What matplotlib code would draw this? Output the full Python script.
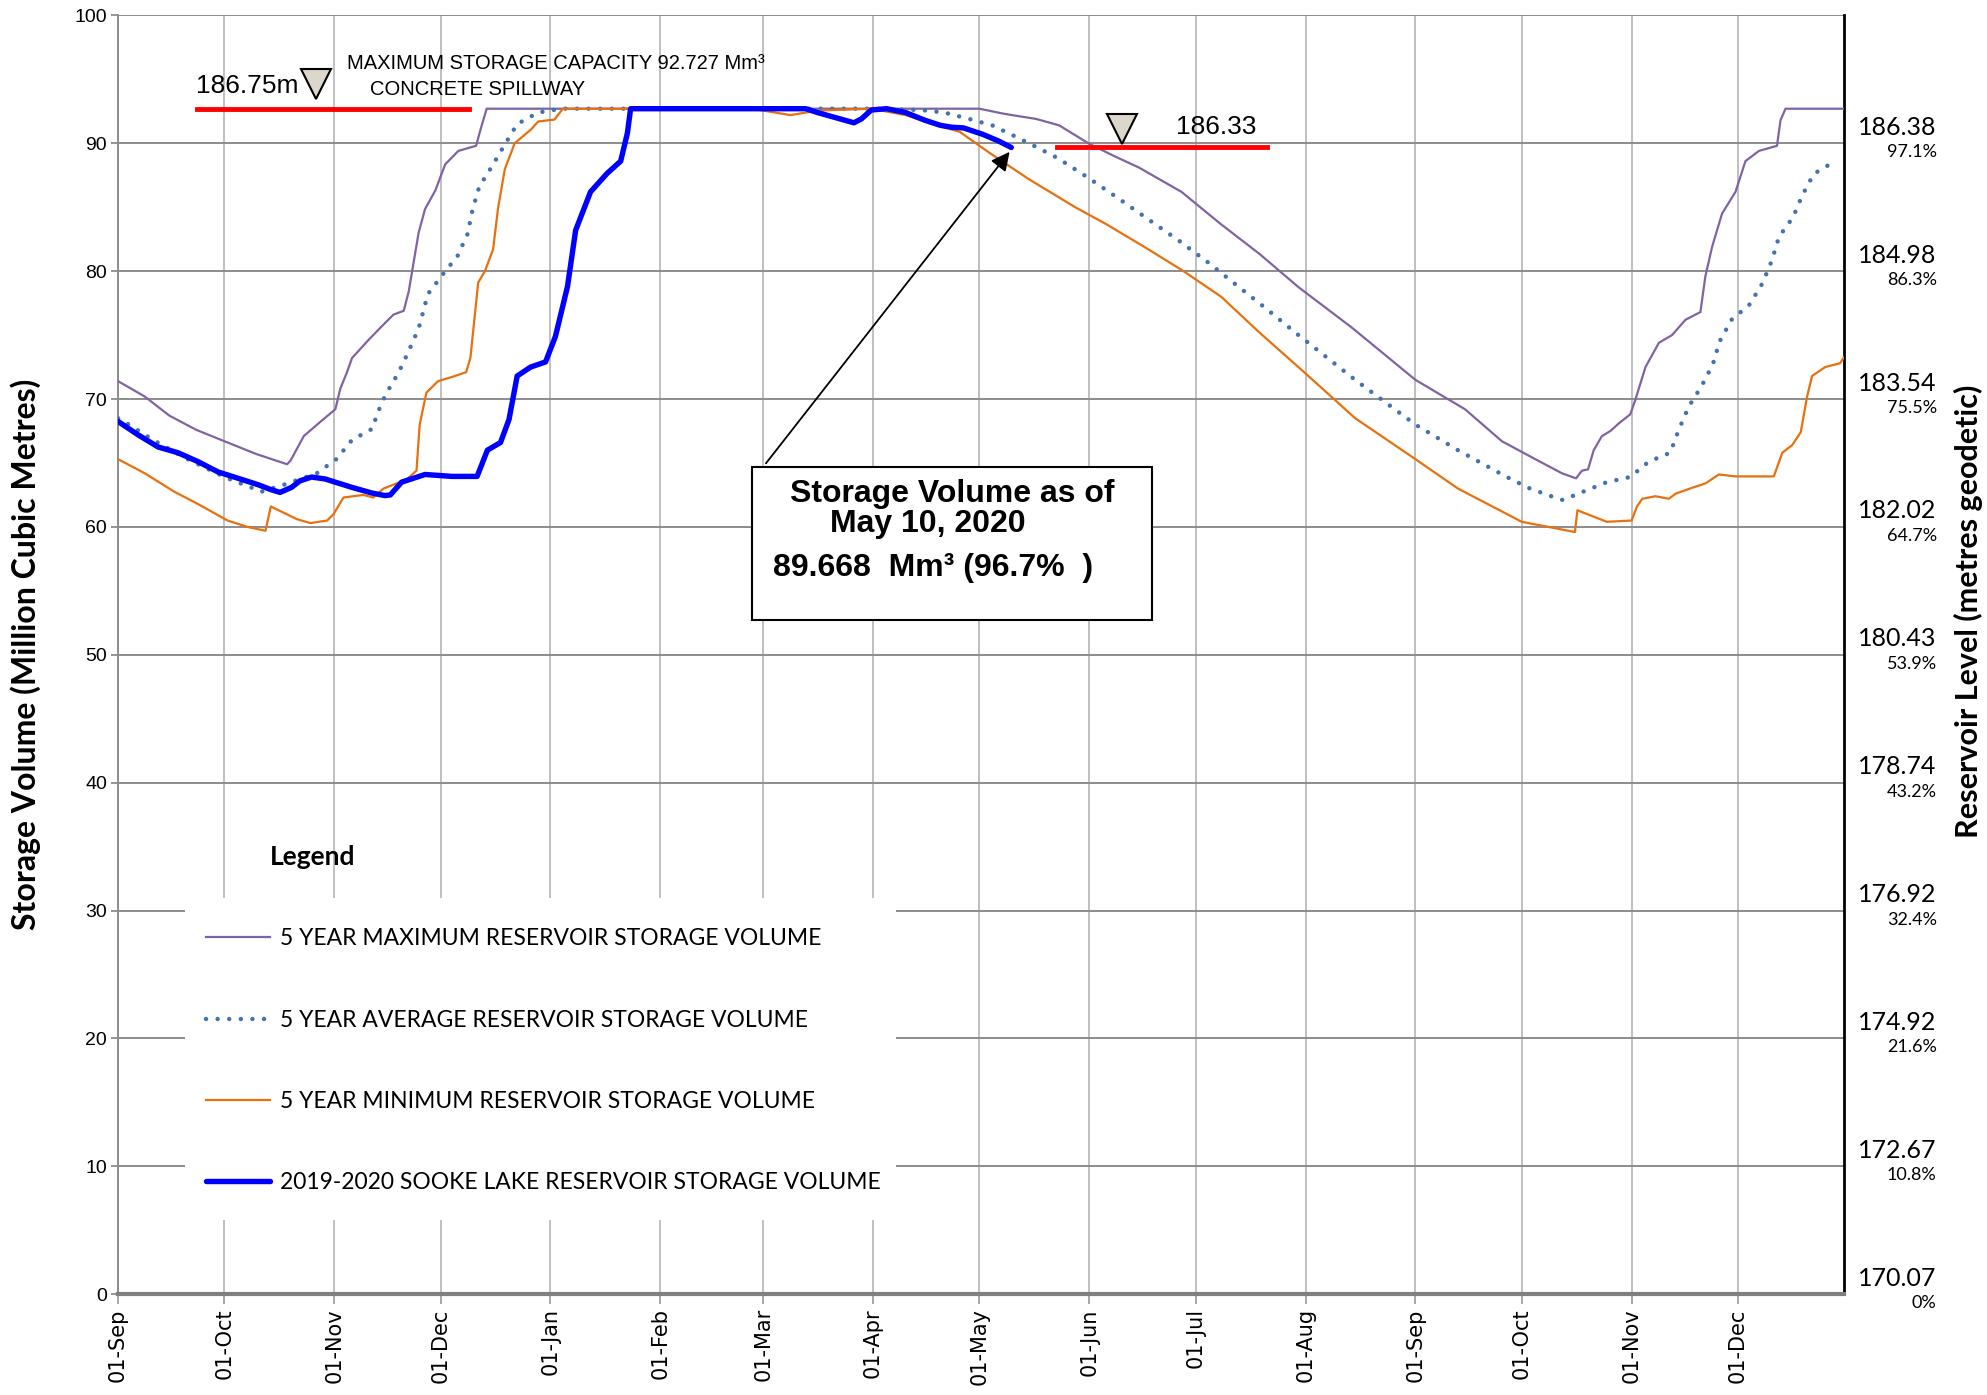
import pandas as pd
import matplotlib
matplotlib.use('Agg')
import matplotlib.pyplot as plt
import matplotlib.dates as mdates
import matplotlib.transforms as mtransforms
from matplotlib.patches import Rectangle
from matplotlib.lines import Line2D

plt.rcParams['font.family'] = ['Liberation Sans', 'DejaVu Sans']

START = pd.Timestamp('2019-09-01')

# x values are days since 01-Sep-2019, y values are storage in Mm3
max_days = [0, 7.5, 14.5, 22, 30, 39, 47.7, 48.7, 52.4, 57, 61.3, 62.7, 64.6, 66, 70.6,
            74.1, 77.7, 80.6, 82, 84.8, 86.6, 89.5, 92.3, 96, 101, 102.5, 104, 243, 250,
            259, 265.5, 274, 281, 288, 300, 311, 322, 333, 348, 366, 380, 390.4, 399.8,
            407.3, 411.3, 413, 414.7, 416.3, 418.6, 421, 423.4, 426.6, 428, 430.9, 434.7,
            438.4, 442.2, 446.4, 447.8, 449.7, 452.5, 456.3, 459.1, 462.9, 468, 469,
            470.4, 487]
max_vol = [71.4, 70.2, 68.7, 67.6, 66.7, 65.7, 64.9, 65.2, 67.1, 68.2, 69.2, 70.8, 72.1,
           73.2, 74.6, 75.6, 76.6, 76.9, 78.4, 83.0, 84.85, 86.3, 88.35, 89.4, 89.8, 91.3,
           92.7, 92.7, 92.3, 91.9, 91.4, 89.95, 89.0, 88.1, 86.2, 83.7, 81.35, 78.75, 75.6,
           71.5, 69.2, 66.7, 65.3, 64.2, 63.8, 64.4, 64.5, 66.0, 67.1, 67.5, 68.1, 68.8,
           69.9, 72.5, 74.4, 75.0, 76.2, 76.8, 79.6, 81.9, 84.5, 86.2, 88.6, 89.4, 89.8,
           91.8, 92.7, 92.7]

avg_days = [0, 3.7, 9.3, 18.2, 24.8, 30.9, 37.4, 40.4, 46.8, 56.1, 61.6, 66, 71.9, 72.8,
            74.1, 75.6, 79, 80.6, 84.8, 87.4, 91.5, 95.8, 98.6, 100, 101.9, 105.5, 108.9,
            112.6, 118.5, 125, 213, 226.6, 233.1, 240.1, 246.6, 252.6, 259.1, 265, 273.7,
            282.4, 290.9, 299.2, 307.9, 316, 324.2, 332.1, 349, 366, 378, 391.8, 397.9,
            404.3, 407.6, 413.7, 420, 426.6, 431.8, 437.9, 440.3, 443.1, 446.7, 449.9,
            451.8, 455.2, 460.3, 464, 466.5, 468.6, 472.5, 475.1, 476.8, 478.4, 481.3,
            484.6]
avg_vol = [68.5, 67.9, 66.9, 65.5, 64.6, 63.8, 63.1, 62.75, 63.3, 64.2, 65.3, 66.8, 67.7,
           68.6, 69.5, 70.4, 72.0, 72.9, 75.5, 78.2, 79.7, 81.2, 82.9, 84.8, 86.6, 88.2,
           89.8, 91.5, 92.4, 92.7, 92.7, 92.6, 92.4, 91.9, 91.4, 90.6, 89.7, 88.85, 87.3,
           85.65, 84.0, 82.4, 80.6, 78.8, 77.0, 75.2, 71.5, 68.0, 66.0, 63.9, 63.05, 62.4,
           62.1, 62.8, 63.5, 63.9, 65.1, 65.8, 67.6, 69.4, 71.0, 72.7, 74.5, 76.2, 77.4,
           79.1, 80.8, 82.7, 84.2, 85.9, 86.8, 87.6, 88.1, 88.6]

min_days = [0, 7.5, 15.9, 22.5, 30.9, 36.5, 41.6, 43.1, 50.5, 54.3, 59, 60.8, 63.6, 69.2,
            72, 74.9, 81.4, 84.2, 85.1, 87, 90.3, 94.5, 98.2, 99.4, 101.6, 103.5, 105.8,
            107.2, 109.1, 111.9, 116.6, 118.5, 123.1, 125.5, 170, 181, 189.7, 197.3,
            212.5, 222.2, 229.8, 237.4, 246.1, 256.9, 270, 278.6, 289.5, 300.3, 311.2,
            322, 335, 349, 366, 378, 396, 411, 411.7, 420, 427, 428.5, 430, 433.7, 437.5,
            439.4, 444.5, 447.8, 451.6, 456.3, 467.1, 469.5, 472.3, 474.7, 476.5, 477.9,
            481.6, 485.8, 487]
min_vol = [65.3, 64.2, 62.75, 61.8, 60.5, 60.0, 59.7, 61.6, 60.6, 60.3, 60.5, 61.0, 62.3,
           62.5, 62.3, 63.0, 63.7, 64.4, 68.0, 70.5, 71.4, 71.75, 72.1, 73.2, 79.1, 80.0,
           81.7, 84.9, 87.96, 90.0, 91.1, 91.7, 91.85, 92.7, 92.7, 92.6, 92.2, 92.55, 92.7,
           92.2, 91.5, 90.9, 89.2, 87.2, 85.0, 83.7, 81.9, 80.05, 78.0, 75.2, 72.0, 68.5,
           65.3, 63.0, 60.4, 59.6, 61.3, 60.4, 60.5, 61.6, 62.2, 62.4, 62.2, 62.6, 63.1,
           63.4, 64.1, 63.95, 63.95, 65.8, 66.4, 67.4, 70.2, 71.8, 72.5, 72.8, 73.3]

cur_days = [0, 5.65, 11.3, 16.9, 22.6, 28.2, 33.9, 39.5, 43.3, 45.7, 49, 51.3, 54.6, 58.4,
            65.9, 71.6, 75.3, 76.8, 80, 86.6, 94.2, 101.3, 104.2, 107.9, 110.3, 112.6,
            116.4, 120.6, 123.4, 126.8, 129.1, 133.3, 138, 141.8, 143.7, 144.6, 194,
            197.3, 202.7, 207.6, 209.7, 212.5, 216.8, 222.2, 227.6, 232, 235.2, 238.5,
            243.9, 248.2, 252]
cur_vol = [68.25, 67.2, 66.25, 65.8, 65.1, 64.3, 63.8, 63.3, 62.9, 62.7, 63.1, 63.6, 63.9,
           63.75, 63.1, 62.65, 62.45, 62.5, 63.5, 64.1, 63.95, 63.95, 66.0, 66.6, 68.4,
           71.8, 72.5, 72.9, 74.9, 78.8, 83.2, 86.2, 87.65, 88.6, 90.8, 92.7, 92.7, 92.4,
           91.98, 91.6, 91.9, 92.6, 92.7, 92.4, 91.8, 91.4, 91.25, 91.2, 90.7, 90.2, 89.668]

# secondary axis labels: reservoir level and percent full
level_ticks = [90, 80, 70, 60, 50, 40, 30, 20, 10, 0]
level_labels = ['186.38', '184.98', '183.54', '182.02', '180.43',
                '178.74', '176.92', '174.92', '172.67', '170.07']
pct_labels = ['97.1%', '86.3%', '75.5%', '64.7%', '53.9%',
              '43.2%', '32.4%', '21.6%', '10.8%', '0%']

series_labels = ['5 YEAR MAXIMUM RESERVOIR STORAGE VOLUME',
                 '5 YEAR AVERAGE RESERVOIR STORAGE VOLUME',
                 '5 YEAR MINIMUM RESERVOIR STORAGE VOLUME',
                 '2019-2020 SOOKE LAKE RESERVOIR STORAGE VOLUME']


def to_dates(days):
    return START + pd.to_timedelta(days, unit='D')


def d(day):
    return mdates.date2num(to_dates([day])[0])


PURPLE = '#8064a2'
BLUE_DOT = '#4472b0'
ORANGE = '#e8700e'
BLUE = '#0000ff'
RED = '#ff0000'
DOTS = (0, (0.01, 2.6))

fig, ax = plt.subplots(figsize=(19.87, 13.95), dpi=100)
fig.subplots_adjust(left=0.0594, right=0.9282, bottom=0.0722, top=0.989)

ax.plot(to_dates(max_days), max_vol, color=PURPLE, lw=1.6, zorder=3)
ax.plot(to_dates(avg_days), avg_vol, color=BLUE_DOT, lw=3.2,
        linestyle=DOTS, dash_capstyle='round', zorder=3)
ax.plot(to_dates(min_days), min_vol, color=ORANGE, lw=1.6, zorder=3)
ax.plot(to_dates(cur_days), cur_vol, color=BLUE, lw=3.9, zorder=4,
        solid_capstyle='round', solid_joinstyle='round')

ax.set_xlim(pd.Timestamp('2019-09-01'), pd.Timestamp('2020-12-31'))
ax.set_ylim(0, 100)
ax.set_yticks(range(0, 101, 10))
ax.xaxis.set_major_locator(mdates.MonthLocator())
ax.xaxis.set_major_formatter(mdates.DateFormatter('%d-%b'))
for lab in ax.get_xticklabels():
    lab.set_rotation(90)
    lab.set_fontfamily('DejaVu Sans')
    lab.set_fontsize(15)
ax.tick_params(axis='y', labelsize=14, length=5, color='#8c8c8c', width=1.3, pad=3)
ax.tick_params(axis='x', length=7, color='#a0a0a0', width=1.3, pad=3)

ax.set_axisbelow(True)
ax.yaxis.grid(True, color='#8c8c8c', lw=1.4)
ax.xaxis.grid(True, color='#c0c0c0', lw=1.4)
ax.spines['top'].set_visible(False)
ax.spines['left'].set_color('#8c8c8c')
ax.spines['left'].set_linewidth(1.4)
ax.spines['bottom'].set_color('#808080')
ax.spines['bottom'].set_linewidth(3)
ax.spines['right'].set_color('black')
ax.spines['right'].set_linewidth(2)

# right hand level / percent labels
trans = mtransforms.blended_transform_factory(ax.transAxes, ax.transData)
for v, lvl, pct in zip(level_ticks, level_labels, pct_labels):
    ax.text(1.0535, v + 1.25, lvl, transform=trans, ha='right', va='center',
            fontsize=18, family='Lato')
    ax.text(1.0535, v - 0.7, pct, transform=trans, ha='right', va='center',
            fontsize=13, family='Lato')

ax.text(-0.0536, 0.5, 'Storage Volume (Million Cubic Metres)', transform=ax.transAxes,
        rotation=90, ha='center', va='center', fontsize=23, fontweight='bold',
        family='Lato')
ax.text(1.0718, 0.534, 'Reservoir Level (metres geodetic)', transform=ax.transAxes,
        rotation=90, ha='center', va='center', fontsize=22, fontweight='bold',
        family='Lato')

# spillway / level markers
ax.plot([to_dates([22.4])[0], to_dates([99])[0]], [92.7, 92.7], color=RED, lw=3.5, zorder=4)
ax.plot([to_dates([265])[0], to_dates([324])[0]], [89.74, 89.74], color=RED, lw=3.5, zorder=4)
ax.plot(to_dates([55.8, 283.3]), [94.6, 91.1], linestyle='none', marker='v',
        markersize=21, markerfacecolor='#ddd6ca', markeredgecolor='black',
        markeredgewidth=1.5, zorder=5)
ax.text(to_dates([51])[0], 94.5, '186.75m', ha='right', va='center', fontsize=19)
ax.text(to_dates([64.7])[0], 96.25, 'MAXIMUM STORAGE CAPACITY 92.727 Mm\u00b3',
        ha='left', va='center', fontsize=14.5)
ax.text(to_dates([71])[0], 94.2, 'CONCRETE SPILLWAY', ha='left', va='center',
        fontsize=14.5)
ax.text(to_dates([298.5])[0], 91.3, '186.33', ha='left', va='center', fontsize=19)

# current storage callout
box = Rectangle((d(178.8), 52.7), d(291.7) - d(178.8), 12.0, facecolor='white',
                edgecolor='black', lw=1.5, zorder=5)
ax.add_patch(box)
ax.text(to_dates([235.3])[0], 62.6, 'Storage Volume as of', ha='center', va='center',
        fontsize=23, fontweight='bold', zorder=6)
ax.text(to_dates([228.5])[0], 60.2, 'May 10, 2020', ha='center', va='center',
        fontsize=23, fontweight='bold', zorder=6)
ax.text(to_dates([230])[0], 56.8, '89.668  Mm\u00b3 (96.7%  )', ha='center', va='center',
        fontsize=23, fontweight='bold', zorder=6)
ax.annotate('', xy=(to_dates([252])[0], 89.5), xytext=(to_dates([182.3])[0], 64.8),
            arrowprops=dict(arrowstyle='-|>', color='black', lw=1.3, mutation_scale=28),
            zorder=6)

# legend on a white panel
ax.add_patch(Rectangle((0.0386, 0.058), 0.412, 0.252, transform=ax.transAxes,
                       facecolor='white', edgecolor='none', zorder=2))
ax.text(to_dates([55])[0], 34.2, 'Legend', ha='center', va='center', fontsize=19,
        fontweight='bold', family='Lato')
handles = [
    Line2D([], [], color=PURPLE, lw=1.6),
    Line2D([], [], color=BLUE_DOT, lw=3.2, linestyle=DOTS, dash_capstyle='round'),
    Line2D([], [], color=ORANGE, lw=1.6),
    Line2D([], [], color=BLUE, lw=3.9, solid_capstyle='round'),
]
ax.legend(handles, series_labels, loc='upper left', bbox_to_anchor=(0.0443, 0.295),
          frameon=False, borderpad=0, handlelength=2.78, handletextpad=0.45,
          labelspacing=2.63, prop={'family': 'Lato', 'size': 16.5})

fig.savefig('out.png', dpi=100)
